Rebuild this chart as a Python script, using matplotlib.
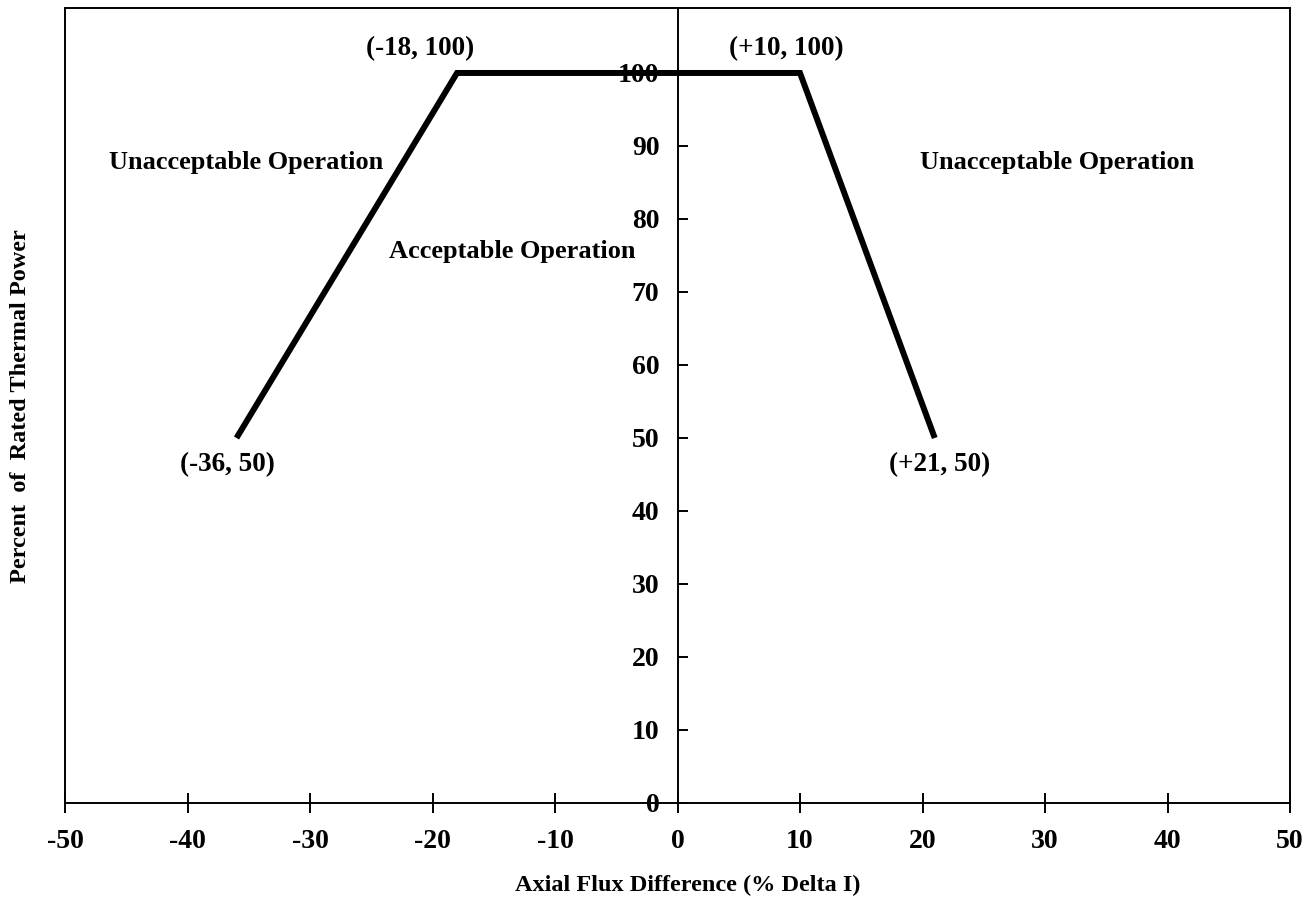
import matplotlib
matplotlib.use("Agg")
import matplotlib.pyplot as plt
from matplotlib.patches import Rectangle

# Data
flux_diff = [-36, -18, 10, 21]
power = [50, 100, 100, 50]
x_ticks = [-50, -40, -30, -20, -10, 0, 10, 20, 30, 40, 50]
y_ticks = [0, 10, 20, 30, 40, 50, 60, 70, 80, 90, 100]
point_labels = ["(-36, 50)", "(-18, 100)", "(+10, 100)", "(+21, 50)"]
point_label_pos = [(-36.7, 46.3), (-21.0, 103.4), (8.9, 103.4), (21.4, 46.3)]
region_labels = ["Unacceptable Operation", "Acceptable Operation", "Unacceptable Operation"]
region_label_pos = [(-35.2, 87.7), (-13.5, 75.5), (31.0, 87.7)]

plt.rcParams['font.family'] = ['Liberation Serif', 'DejaVu Serif']
plt.rcParams['font.weight'] = 'bold'

fig = plt.figure(figsize=(13.05, 9.0), dpi=100)
ax = fig.add_axes([65/1305, 97/900, (1290-65)/1305, (803-8)/900])

ax.plot(flux_diff, power, color='black', linewidth=4.3, solid_capstyle='butt',
        solid_joinstyle='miter', zorder=3)

ax.set_xlim(-50, 50)
ax.set_ylim(0, 108.9)

# spines: left spine moved to x=0
ax.spines['left'].set_position(('data', 0))
ax.spines['left'].set_linewidth(1.4)
for s in ['top', 'right', 'bottom']:
    ax.spines[s].set_visible(False)
ax.add_patch(Rectangle((0, 0), 1, 1, transform=ax.transAxes, fill=False,
                       edgecolor='black', linewidth=1.4, clip_on=False, zorder=1))

ax.set_xticks(x_ticks)
ax.set_xticklabels([str(v) for v in x_ticks])
ax.set_yticks(y_ticks)
ax.set_yticklabels([str(v) for v in y_ticks])
ax.tick_params(axis='x', direction='inout', length=14, width=1.4, pad=12, labelsize=20)
ax.tick_params(axis='y', direction='in', length=7, width=1.4, pad=13, labelsize=20)
for lab in ax.get_xticklabels() + ax.get_yticklabels():
    lab.set_fontweight('bold')

for txt, (x, y) in zip(point_labels, point_label_pos):
    ax.text(x, y, txt, ha='center', va='center', fontsize=19.5, fontweight='bold')
for txt, (x, y) in zip(region_labels, region_label_pos):
    ax.text(x, y, txt, ha='center', va='center', fontsize=19, fontweight='bold')

fig.text(688/1305, 1 - 885/900, "Axial Flux Difference (% Delta I)", ha='center', va='center',
         fontsize=17.5, fontweight='bold')
fig.text(21/1305, 1 - 406/900, "Percent  of  Rated Thermal Power", ha='center', va='center',
         rotation=90, fontsize=17.5, fontweight='bold')

fig.savefig("out.png", dpi=100)
